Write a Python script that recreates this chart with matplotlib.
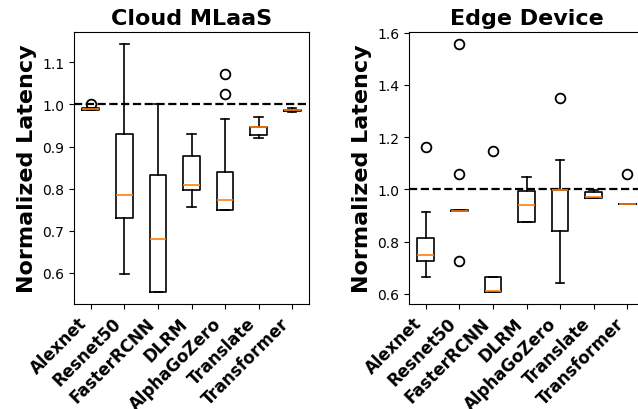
import matplotlib
matplotlib.use('Agg')
import matplotlib.pyplot as plt

models = ['Alexnet', 'Resnet50', 'FasterRCNN', 'DLRM', 'AlphaGoZero', 'Translate', 'Transformer']

cloud_whislo = [0.986, 0.596, 0.555, 0.757, 0.750, 0.921, 0.983]
cloud_q1     = [0.987, 0.729, 0.555, 0.796, 0.750, 0.927, 0.984]
cloud_med    = [0.989, 0.785, 0.680, 0.809, 0.774, 0.946, 0.986]
cloud_q3     = [0.991, 0.929, 0.833, 0.878, 0.839, 0.947, 0.988]
cloud_whishi = [0.992, 1.143, 1.000, 0.929, 0.965, 0.971, 0.991]
cloud_fliers = [[1.0], [], [], [], [1.072, 1.025], [], []]

# edge device
edge_whislo = [0.663, 0.917, 0.608, 0.875, 0.642, 0.967, 0.942]
edge_q1     = [0.724, 0.917, 0.608, 0.875, 0.839, 0.967, 0.942]
edge_med    = [0.747, 0.918, 0.609, 0.939, 0.996, 0.969, 0.943]
edge_q3     = [0.813, 0.920, 0.665, 0.995, 0.996, 0.989, 0.944]
edge_whishi = [0.913, 0.920, 0.665, 1.047, 1.112, 0.997, 0.944]
edge_fliers = [[1.161], [1.555, 1.059, 0.724], [1.146], [], [1.348], [], [1.059]]


def make_stats(lo, q1, med, q3, hi, fl):
    st = []
    for i in range(len(models)):
        st.append({'whislo': lo[i], 'q1': q1[i], 'med': med[i], 'q3': q3[i],
                   'whishi': hi[i], 'fliers': fl[i], 'label': models[i]})
    return st


fig = plt.figure(figsize=(6.38, 4.10), dpi=100)
ax1 = fig.add_axes([74/638, 105/410, 235/638, 272/410])
ax2 = fig.add_axes([409/638, 105/410, 235/638, 272/410])

lw = 1.2
kw = dict(boxprops=dict(linewidth=lw), whiskerprops=dict(linewidth=lw),
          capprops=dict(linewidth=lw), medianprops=dict(linewidth=lw, color='C1'),
          flierprops=dict(markeredgewidth=1.3, markersize=7))

ax1.bxp(make_stats(cloud_whislo, cloud_q1, cloud_med, cloud_q3, cloud_whishi, cloud_fliers), **kw)
ax2.bxp(make_stats(edge_whislo, edge_q1, edge_med, edge_q3, edge_whishi, edge_fliers), **kw)

for ax, title in [(ax1, 'Cloud MLaaS'), (ax2, 'Edge Device')]:
    ax.axhline(1.0, color='black', linestyle='--', linewidth=1.6)
    ax.set_title(title, fontsize=16, fontweight='bold')
    ax.set_ylabel('Normalized Latency', fontsize=16, fontweight='bold')
    ax.set_xticks(range(1, len(models) + 1))
    ax.set_xticklabels(models, rotation=45, ha='right', fontsize=12, fontweight='bold')
    ax.tick_params(axis='y', labelsize=10)

plt.savefig('out.png')
